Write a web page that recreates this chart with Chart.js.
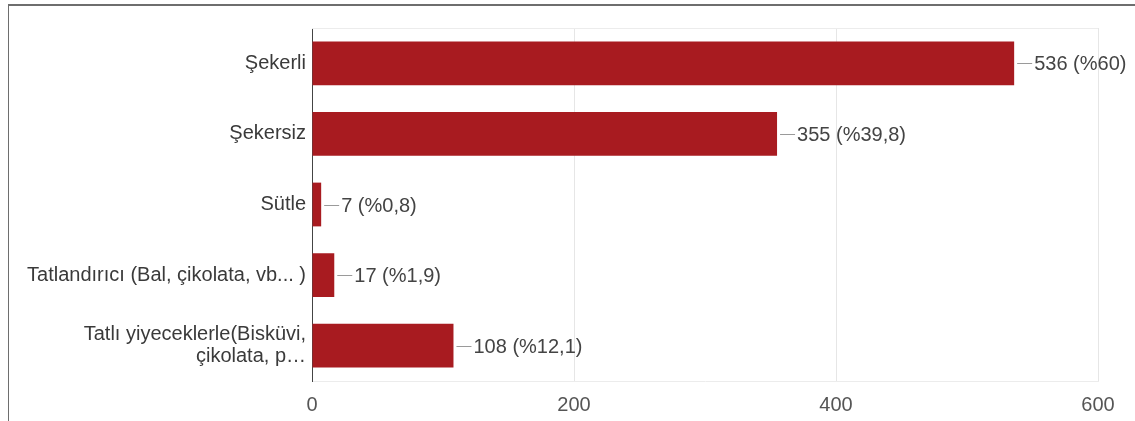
<!DOCTYPE html>
<html>
<head>
<meta charset="utf-8">
<script src="https://cdn.jsdelivr.net/npm/chart.js@4"></script>
<style>
  html, body { margin: 0; padding: 0; background: #fff; }
  #wrap { position: relative; width: 1135px; height: 421px; overflow: hidden; }
  #frame { position: absolute; left: 8px; top: 4px; width: 1140px; height: 430px;
           border-top: 2px solid #6e6e6e; border-left: 1px solid #6e6e6e; }
  canvas { position: absolute; left: 0; top: 0; }
</style>
</head>
<body>
<div id="wrap">
  <div id="frame"></div>
  <canvas id="my" width="1135" height="421"></canvas>
</div>
<script>
// values
var categories = [
    "Şekerli",
    "Şekersiz",
    "Sütle",
    "Tatlandırıcı (Bal, çikolata, vb... )",
    ["Tatlı yiyeceklerle(Bisküvi,", "çikolata, p…"]
];
var counts = [536, 355, 7, 17, 108];
var percents = ["60", "39,8", "0,8", "1,9", "12,1"];
var xTicks = [0, 200, 400, 600];

var barColor = "#a81b20";
var fontFamily = "'Liberation Sans', Arial, sans-serif";

// line + "n (%p)" next to every bar end, plus a faint top edge on the plot box
var valueLabels = {
    id: 'valueLabels',
    afterDatasetsDraw: function (chart) {
        var c = chart.ctx;
        var area = chart.chartArea;
        c.save();
        c.strokeStyle = "#ececec";
        c.lineWidth = 1;
        c.beginPath();
        c.moveTo(area.left, area.top + 0.5);
        c.lineTo(area.right, area.top + 0.5);
        c.stroke();

        var meta = chart.getDatasetMeta(0);
        c.font = "20px " + fontFamily;
        c.textBaseline = "middle";
        c.textAlign = "left";
        meta.data.forEach(function (bar, i) {
            var x = bar.x, y = Math.round(bar.y) + 0.5;
            c.strokeStyle = "#9a9a9a";
            c.beginPath();
            c.moveTo(x + 3, y);
            c.lineTo(x + 18, y);
            c.stroke();
            c.fillStyle = "#444";
            c.fillText(counts[i] + " (%" + percents[i] + ")", x + 20, y + 1);
        });
        c.restore();
    }
};

var ctx = document.getElementById("my").getContext('2d');
var myChart = new Chart(ctx, {
    type: 'bar',
    plugins: [valueLabels],
    data: {
        labels: categories,
        datasets: [{
            data: counts,
            backgroundColor: barColor,
            barPercentage: 0.62,
            categoryPercentage: 1.0
        }]
    },
    options: {
        indexAxis: 'y',
        responsive: false,
        animation: false,
        layout: { padding: { top: 25, right: 37, left: 0, bottom: 0 } },
        plugins: {
            legend: { display: false },
            tooltip: { enabled: false }
        },
        scales: {
            x: {
                min: 0,
                max: 600,
                afterBuildTicks: function (scale) {
                    scale.ticks = xTicks.map(function (v) { return { value: v }; });
                },
                afterFit: function (scale) { scale.height = 40; },
                grid: {
                    color: function (c) { return c.tick && c.tick.value === 0 ? "rgba(0,0,0,0)" : "#e6e6e6"; },
                    drawTicks: false,
                    tickLength: 0
                },
                border: { display: true, color: "#ececec" },
                ticks: {
                    padding: 12,
                    color: "#555",
                    font: { family: fontFamily, size: 20 }
                }
            },
            y: {
                afterFit: function (scale) { scale.width = 312; },
                grid: { display: false, drawTicks: false, tickLength: 0 },
                border: { display: true, color: "#444", width: 1 },
                ticks: {
                    padding: 6,
                    color: "#3a3a3a",
                    autoSkip: false,
                    font: { family: fontFamily, size: 20, lineHeight: 1.1 }
                }
            }
        }
    }
});
</script>
</body>
</html>
